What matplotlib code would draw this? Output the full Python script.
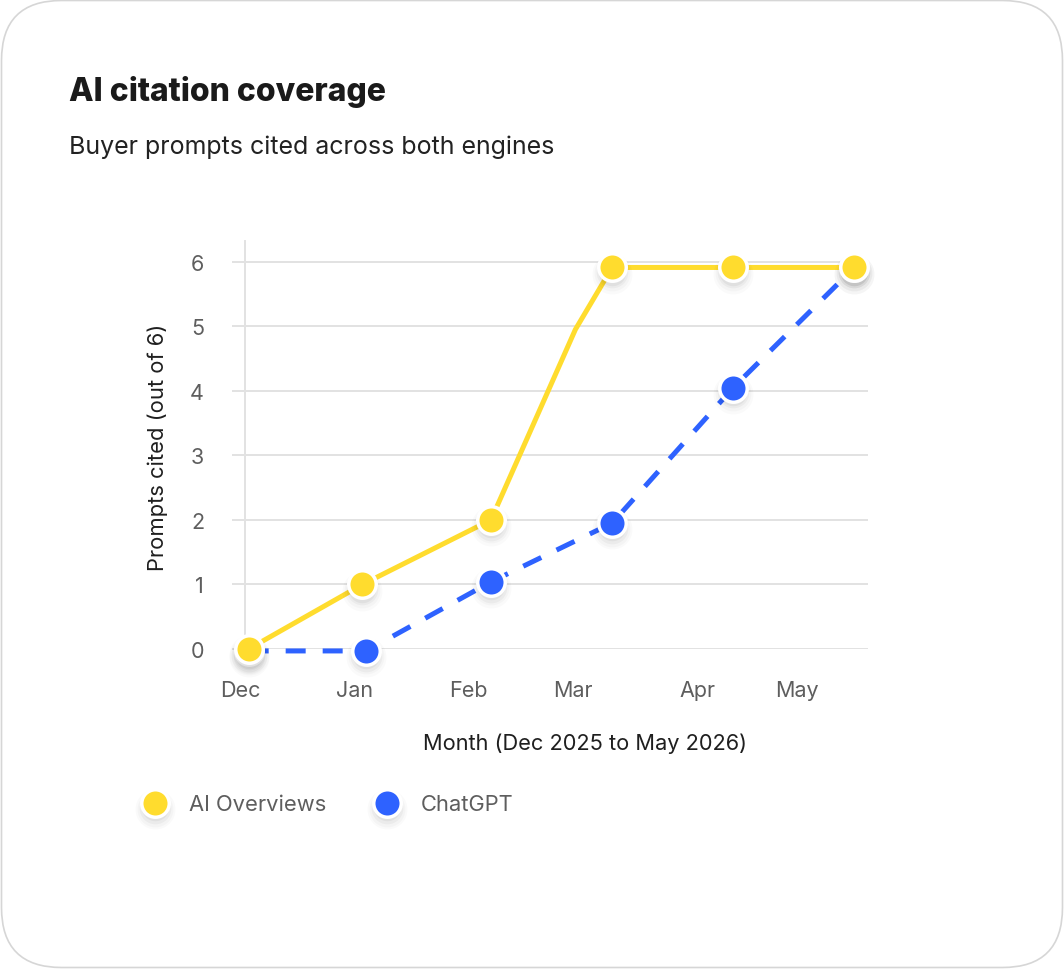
import pandas as pd
import matplotlib
matplotlib.use("Agg")
import matplotlib.pyplot as plt
import matplotlib.transforms as mtransforms
from matplotlib.patches import FancyBboxPatch

plt.rcParams['font.family'] = ['Inter', 'DejaVu Sans']

# data
ai_dates = pd.to_datetime(['2025-12-02', '2026-01-02', '2026-02-06', '2026-03-01',
                           '2026-03-11', '2026-04-13', '2026-05-16'])
ai_values = [0.0, 1.0, 2.0, 4.95, 5.91, 5.91, 5.91]
ai_marker_idx = [0, 1, 2, 4, 5, 6]

gpt_dates = pd.to_datetime(['2025-12-02', '2026-01-03', '2026-02-06', '2026-03-11',
                            '2026-04-13', '2026-05-16'])
gpt_values = [-0.03, -0.03, 1.04, 1.95, 4.05, 5.91]

month_ticks = pd.to_datetime(['2025-12-01', '2026-01-01', '2026-02-01', '2026-03-01',
                              '2026-04-01', '2026-05-01'])
month_labels = ['Dec', 'Jan', 'Feb', 'Mar', 'Apr', 'May']
y_ticks = [0, 1, 2, 3, 4, 5, 6]

YELLOW = '#FFDC2E'
BLUE = '#2E62FF'
GRID = '#E2E2E2'
MS, MEW = 19.8, 2.5

W, H = 1064, 970
fig = plt.figure(figsize=(W / 100, H / 100), dpi=100)
fig.patch.set_facecolor('white')

# rounded card
card = FancyBboxPatch((1.5 / 100, 1.5 / 100), (W - 3) / 100, (H - 3) / 100,
                      boxstyle="round,pad=0,rounding_size=0.6",
                      transform=fig.dpi_scale_trans, facecolor='white',
                      edgecolor='#D6D6D6', linewidth=1.2, zorder=-10)
fig.patches.append(card)

fig.text(69 / W, 1 - 92 / H, 'AI citation coverage', fontsize=23, fontweight=800,
         color='#1A1A1A', va='center', ha='left')
fig.text(69 / W, 1 - 147 / H, 'Buyer prompts cited across both engines', fontsize=18,
         color='#222222', va='center', ha='left')

ax = fig.add_axes([245 / W, 1 - 650 / H, 623 / W, 408 / H])
ax.set_facecolor('none')

x0 = pd.Timestamp('2025-12-01') + pd.Timedelta(days=1.35)
x1 = pd.Timestamp('2025-12-01') + pd.Timedelta(days=169.7)
ax.set_xlim(x0, x1)
ax.set_ylim(0, 6.32)

# soft drop shadow layers: (offset down in pt, marker size, alpha)
SHADOW = [(4.5, MS + 9, 0.018), (4.0, MS + 6, 0.025), (3.5, MS + 3, 0.035), (3.0, MS, 0.045)]


def add_shadow(ax, x, y, z):
    for dy, s, a in SHADOW:
        tr = mtransforms.offset_copy(ax.transData, fig=fig, x=0, y=-dy, units='points')
        ax.plot(x, y, 'o', color='black', alpha=a, markersize=s, markeredgewidth=0,
                transform=tr, clip_on=False, zorder=z)


# ChatGPT (under)
ax.plot(gpt_dates, gpt_values, color=BLUE, linewidth=3.6, linestyle=(0, (4, 3.4)),
        dash_capstyle='butt', clip_on=False, zorder=2)
add_shadow(ax, gpt_dates, gpt_values, 3)
ax.plot(gpt_dates, gpt_values, 'o', color=BLUE, markersize=MS, markeredgecolor='white',
        markeredgewidth=MEW, clip_on=False, zorder=4)

# AI Overviews
ai_mx = ai_dates[ai_marker_idx]
ai_my = [ai_values[i] for i in ai_marker_idx]
ax.plot(ai_dates, ai_values, color=YELLOW, linewidth=3.6, solid_capstyle='round',
        clip_on=False, zorder=5)
add_shadow(ax, ai_mx, ai_my, 5.5)
ax.plot(ai_mx, ai_my, 'o', color=YELLOW, markersize=MS, markeredgecolor='white',
        markeredgewidth=MEW, clip_on=False, zorder=6)

ax.set_yticks(y_ticks)
ax.set_yticklabels([str(v) for v in y_ticks])
ax.set_xticks(month_ticks)
ax.set_xticklabels(month_labels)
ax.grid(axis='y', color=GRID, linewidth=1.4)
ax.set_axisbelow(True)
for s in ['top', 'right', 'bottom']:
    ax.spines[s].set_visible(False)
ax.spines['left'].set_color(GRID)
ax.spines['left'].set_linewidth(1.4)
ax.tick_params(axis='y', length=9.5, width=1.4, color=GRID, pad=20,
               labelsize=15.5, labelcolor='#5E5E5E')
ax.tick_params(axis='x', length=0, pad=22, labelsize=15.5, labelcolor='#5E5E5E')
xlabels = ax.get_xticklabels()
for lbl, dx in zip(xlabels, [-5, -4, -4, -3, 8, -2]):
    lbl.set_transform(lbl.get_transform() + mtransforms.ScaledTranslation(dx / 100, 0, fig.dpi_scale_trans))

fig.text(158 / W, 1 - 447 / H, 'Prompts cited (out of 6)', rotation=90, fontsize=15.8,
         color='#1F1F1F', va='center', ha='center')
fig.text(585 / W, 1 - 744 / H, 'Month (Dec 2025 to May 2026)', fontsize=15.7,
         color='#1F1F1F', va='center', ha='center')

# legend
lax = fig.add_axes([0, 0, 1, 1], facecolor='none')
lax.set_xlim(0, W)
lax.set_ylim(H, 0)
lax.axis('off')
for lx, col, lab in [(155, YELLOW, 'AI Overviews'), (387, BLUE, 'ChatGPT')]:
    for dy, s, a in SHADOW:
        lax.plot(lx, 804 + dy * 1.39, 'o', color='black', alpha=a, markersize=s,
                 markeredgewidth=0)
    lax.plot(lx, 804, 'o', color=col, markersize=MS, markeredgecolor='white',
             markeredgewidth=MEW)
    lax.text(lx + 34, 805, lab, fontsize=15.8, color='#5E5E5E', va='center', ha='left')

fig.savefig('out.png', dpi=100, facecolor='white')
